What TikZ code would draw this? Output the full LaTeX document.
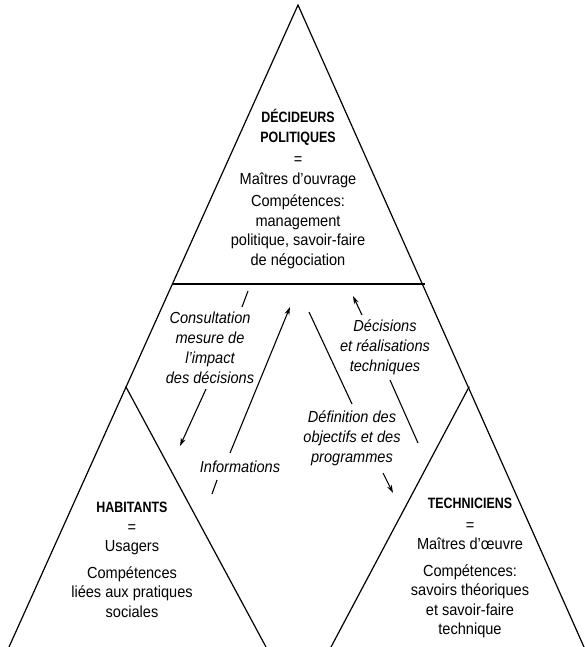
\documentclass[tikz,border=0pt]{standalone}
\usepackage{fontspec}
\setmainfont{Liberation Sans}[FakeStretch=0.91,BoldFeatures={FakeStretch=0.83}]
\usetikzlibrary{arrows.meta}
\begin{document}
\begin{tikzpicture}[x=1pt,y=-1pt,
  edge/.style={line width=1.2pt,line cap=round},
  baseline/.style={line width=1.9pt},
  arr/.style={line width=1.1pt,-{Stealth[length=8pt,width=5pt]}},
  seg/.style={line width=1.1pt},
  body/.style={align=center,font=\fontsize{16}{19.5}\selectfont,inner sep=0pt,text=black},
  lab/.style={align=center,font=\fontsize{16}{20}\selectfont\itshape,inner sep=0pt,text=black},
]
\useasboundingbox[fill=white] (0,0) rectangle (584,647);
% outline
\coordinate (apex) at (298,5);
\coordinate (bl) at (9,647);
\coordinate (br) at (584,647);
\coordinate (hl) at (172.5,284);
\coordinate (hr) at (424.5,284);
\coordinate (ha) at (126,387);
\coordinate (hb) at (266,647);
\coordinate (ta) at (469,387);
\coordinate (tb) at (331,647);
\draw[edge] (apex) -- (bl);
\draw[edge] (apex) -- (br);
\draw[baseline] (hl) -- (hr);
\draw[edge] (ha) -- (hb);
\draw[edge] (ta) -- (tb);
% blocks
\node[body] (dec) at (298,189) {{\bfseries\fontsize{15}{19}\selectfont DÉCIDEURS}\\{\bfseries\fontsize{15}{19}\selectfont POLITIQUES}\\[3pt]=\\Maîtres d’ouvrage\\[3pt]Compétences:\\management\\politique, savoir-faire\\de négociation};
\node[body] (hab) at (132,560) {{\bfseries\fontsize{15}{19}\selectfont HABITANTS}\\=\\Usagers\\[7pt]Compétences\\liées aux pratiques\\sociales};
\node[body] (tec) at (470,568) {{\bfseries\fontsize{15}{19}\selectfont TECHNICIENS}\\[2pt]=\\Maîtres d’œuvre\\[7pt]Compétences:\\savoirs théoriques\\et savoir-faire\\technique};
% labels
\node[lab] (cons) at (210,348) {Consultation\\mesure de\\l’impact\\des décisions};
\node[lab] (info) at (240,467) {Informations};
\node[lab] (dcs) at (385,347) {Décisions\\et réalisations\\techniques};
\node[lab] (def) at (352,438) {Définition des\\objectifs et des\\programmes};
% arrows
\coordinate (c1) at (248,291);
\coordinate (c2) at (242,307);
\coordinate (c3) at (206,389);
\coordinate (c4) at (180,446);
\draw[seg] (c1) -- (c2);
\draw[arr] (c3) -- (c4);
\coordinate (i1) at (212,494);
\coordinate (i2) at (217,480);
\coordinate (i3) at (230,453);
\coordinate (i4) at (290,307);
\draw[seg] (i1) -- (i2);
\draw[arr] (i3) -- (i4);
\coordinate (d1) at (309,312);
\coordinate (d2) at (352,404);
\coordinate (d3) at (383,473);
\coordinate (d4) at (393,493);
\draw[seg] (d1) -- (d2);
\draw[arr] (d3) -- (d4);
\coordinate (e1) at (418,443);
\coordinate (e2) at (390,380);
\coordinate (e3) at (362,315);
\coordinate (e4) at (353,296);
\draw[seg] (e1) -- (e2);
\draw[arr] (e3) -- (e4);
\end{tikzpicture}
\end{document}
